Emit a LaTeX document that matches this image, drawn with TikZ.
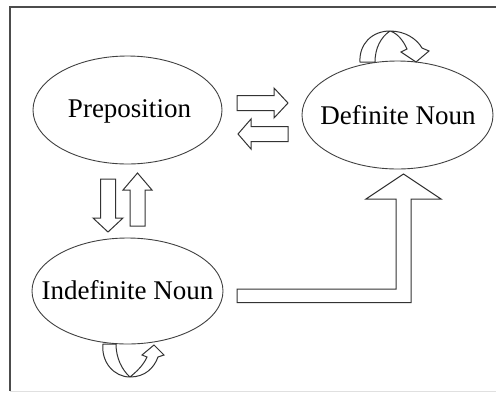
\documentclass[tikz,border=0pt]{standalone}
\usepackage{fontspec}
\setmainfont{Liberation Serif}
\usetikzlibrary{shapes.geometric}
\begin{document}
\begin{tikzpicture}[x=1pt,y=-1pt,
  state/.style={ellipse,draw=black!75,line width=0.9pt,inner sep=0pt},
  statetext/.style={inner sep=0pt,font=\fontsize{27}{29}\selectfont,text height=17.9pt,text depth=0pt},
  blockarrow/.style={draw=black!80,line width=1pt,fill=white,line join=miter},
  frameline/.style={draw=black!70,line width=1.8pt}]
\useasboundingbox (0,0) rectangle (496,392);

% frame
\draw[frameline] (10,390.5) -- (10,7) -- (496,7);
\draw[black!12,line width=0.8pt] (10,391.2) -- (496,391.2);

% states
\node[state,minimum width=189pt,minimum height=108pt] (prep) at (127.5,110) {};
\node[state,minimum width=191pt,minimum height=108pt] (defn) at (397.5,115) {};
\node[state,minimum width=191pt,minimum height=106pt] (indef) at (127.5,291) {};
\node[statetext] (prep-text) at (129.5,109) {Preposition};
\node[statetext] (defn-text) at (398,115.5) {Definite Noun};
\node[statetext] (indef-text) at (127.5,291) {Indefinite Noun};

% Preposition -> Definite Noun
\draw[blockarrow] (237,95.5) -- (274,95.5) -- (274,88) -- (288,103) -- (274,118)
  -- (274,110.5) -- (237,110.5) -- cycle;
% Definite Noun -> Preposition
\draw[blockarrow] (288,126.5) -- (251,126.5) -- (251,119) -- (238,134) -- (251,149)
  -- (251,141.5) -- (288,141.5) -- cycle;
% Preposition -> Indefinite Noun
\draw[blockarrow] (100.5,179) -- (115.5,179) -- (115.5,218) -- (123,218) -- (108,232)
  -- (93,218) -- (100.5,218) -- cycle;
% Indefinite Noun -> Preposition
\draw[blockarrow] (130,226) -- (130,190) -- (123,190) -- (137.5,173) -- (152,190)
  -- (145,190) -- (145,226) -- cycle;
% Indefinite Noun -> Definite Noun
\draw[blockarrow] (237,289) -- (396,289) -- (396,199) -- (366,199) -- (403.5,174)
  -- (441,199) -- (411,199) -- (411,302.5) -- (237,302.5) -- cycle;

% Definite Noun self loop
\draw[blockarrow] (360,62) .. controls (359,44) and (372,31) .. (390,31)
  .. controls (405,31) and (417,39) .. (422,48) -- (429,51) -- (416,62) -- (401,52)
  -- (407,49) .. controls (403,40) and (397,33) .. (390,31)
  .. controls (381,37) and (375,48) .. (375,62) -- cycle;

% Indefinite Noun self loop
\draw[blockarrow] (103,344) .. controls (101,362) and (114,377) .. (130,377)
  .. controls (145,377) and (154,368) .. (158,357) -- (164,355) -- (154,345) -- (142,355)
  -- (147,357) .. controls (143,366) and (136,372) .. (130,377)
  .. controls (122,370) and (116,358) .. (116,344) -- cycle;
\end{tikzpicture}
\end{document}
